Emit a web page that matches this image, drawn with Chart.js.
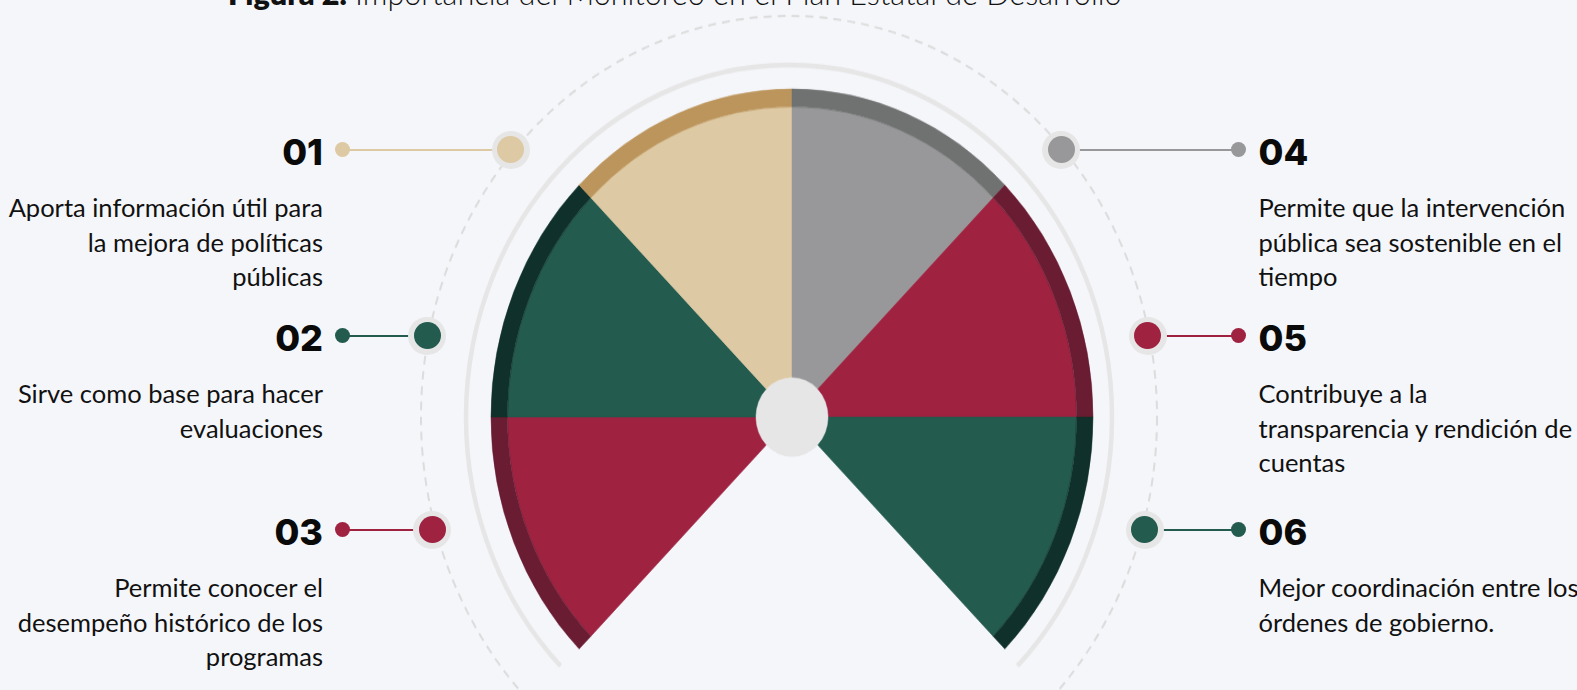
<!DOCTYPE html>
<html lang="es">
<head>
<meta charset="utf-8">
<title>Importancia del Monitoreo en el Plan Estatal de Desarrollo</title>
<script src="https://cdn.jsdelivr.net/npm/chart.js@4.4.1/dist/chart.umd.min.js"></script>
<style>
    html, body { margin: 0; padding: 0; }
    body {
        width: 1577px; height: 690px; overflow: hidden; position: relative;
        background: #f5f6fa; color: #111; font-family: Lato, "Noto Sans", sans-serif;
    }
    #title { position: absolute; left: 228px; white-space: nowrap; font-weight: 300; line-height: 1; }
    #title b { font-weight: 800; }
    #chartBox {
        position: absolute; left: 392px; top: 17px; width: 800px; height: 800px;
        transform: scaleY(1.09); transform-origin: 50% 50%;
    }
    .num { position: absolute; font-family: Inter, sans-serif; font-weight: 800; font-size: 36px; line-height: 36px; color: #0a0a0a; }
    .desc { position: absolute; white-space: nowrap; line-height: 34.5px; color: #111; }
    .left { text-align: right; }
    .mk { position: absolute; border-radius: 50%; z-index: 3; }
    .ln { position: absolute; height: 2px; z-index: 2; }
</style>
</head>
<body>
<div id="title"><b>Figura 2.</b> Importancia del Monitoreo en el Plan Estatal de Desarrollo</div>
<div id="chartBox"><canvas id="wheel"></canvas></div>
<script>
// --- Data ---
// slices go clockwise from the lower left
const sliceLabels = ['03', '02', '01', '04', '05', '06'];
const sliceValues = [1, 1, 1, 1, 1, 1];
const innerColors = ['#9f2241', '#235b4e', '#ddc9a3', '#98989a', '#9f2241', '#235b4e'];
const rimColors = ['#691c32', '#10312b', '#bc955c', '#6f7271', '#691c32', '#10312b'];

const itemNumbers = ['01', '02', '03', '04', '05', '06'];
const itemTexts = [
    ['Aporta información útil para', 'la mejora de políticas', 'públicas'],
    ['Sirve como base para hacer', 'evaluaciones'],
    ['Permite conocer el', 'desempeño histórico de los', 'programas'],
    ['Permite que la intervención', 'pública sea sostenible en el', 'tiempo'],
    ['Contribuye a la', 'transparencia y rendición de', 'cuentas'],
    ['Mejor coordinación entre los', 'órdenes de gobierno.']
];

// --- Layout of the callouts (page pixels) ---
const rowY = [151, 337, 531];                 // centre of the big numbers
const markerX = [510.7, 427.4, 432.2, 1061, 1147.5, 1144.5];
const leftEdge = 323, rightEdge = 1258.5;
const dotLeftX = 342.6, dotRightX = 1238;

// --- Title: fit to its width in the picture ---
const title = document.getElementById('title');
title.style.fontSize = '30px';
let tSize = 30 * 894 / title.offsetWidth;
title.style.fontSize = tSize + 'px';
title.style.top = (6 - 0.887 * tSize) + 'px';

// --- Description font size from the widest line ---
const probe = document.createElement('span');
probe.className = 'desc';
probe.style.fontSize = '23px';
probe.textContent = itemTexts[0][0];
document.body.appendChild(probe);
const descSize = 23 * 315 / probe.offsetWidth;
probe.remove();

function addEl(cls, css, html) {
    const el = document.createElement('div');
    el.className = cls;
    Object.assign(el.style, css);
    if (html) el.innerHTML = html;
    document.body.appendChild(el);
    return el;
}

itemNumbers.forEach(function (num, i) {
    const left = i < 3;
    const y = rowY[i % 3];
    const color = innerColors[sliceLabels.indexOf(num)];
    const mY = y - 1.5;
    const side = left ? { right: (1577 - leftEdge) + 'px' } : { left: rightEdge + 'px' };

    addEl('num' + (left ? ' left' : ''), Object.assign({ top: (y - 17.5) + 'px' }, side), num);
    addEl('desc' + (left ? ' left' : ''),
        Object.assign({ top: (y + 39) + 'px', fontSize: descSize + 'px' }, side),
        itemTexts[i].join('<br>'));

    // connector: small dot, line, big marker with halo
    const dx = left ? dotLeftX : dotRightX;
    const x0 = Math.min(dx, markerX[i]), x1 = Math.max(dx, markerX[i]);
    addEl('ln', { left: x0 + 'px', width: (x1 - x0) + 'px', top: (mY - 1) + 'px', background: color });
    addEl('mk', { left: (dx - 7.5) + 'px', top: (mY - 7.5) + 'px', width: '15px', height: '15px', background: color });
    addEl('mk', { left: (markerX[i] - 19) + 'px', top: (mY - 19) + 'px', width: '38px', height: '38px', background: '#e6e6e6' });
    addEl('mk', { left: (markerX[i] - 13.5) + 'px', top: (mY - 13.5) + 'px', width: '27px', height: '27px', background: color });
});

// --- Decorative rings behind the wheel ---
const ringsPlugin = {
    id: 'rings',
    beforeDatasetsDraw(chart) {
        const arc = chart.getDatasetMeta(0).data[0];
        const R = arc.outerRadius;
        const cx = arc.x - 3, cy = arc.y;
        const ctx = chart.ctx;
        ctx.save();
        ctx.strokeStyle = '#e6e6e6';
        ctx.lineWidth = 4.5;
        ctx.beginPath();
        ctx.arc(cx, cy, R + 22, Math.PI * 0.75, Math.PI * 2.25);
        ctx.stroke();
        ctx.setLineDash([8, 6]);
        ctx.strokeStyle = '#dcdcdc';
        ctx.lineWidth = 2;
        ctx.beginPath();
        ctx.arc(cx, cy, R + 67, 0, Math.PI * 2);
        ctx.stroke();
        ctx.restore();
    }
};

const ctx = document.getElementById('wheel').getContext('2d');
const wheel = new Chart(ctx, {
    type: 'doughnut',
    data: {
        labels: sliceLabels,
        datasets: [
            {   // darker rim
                data: sliceValues,
                backgroundColor: rimColors,
                borderColor: rimColors,
                borderWidth: 0.5,
                weight: 16.5,
                rotation: -135,
                circumference: 270
            },
            {   // slice body
                data: sliceValues,
                backgroundColor: innerColors,
                borderColor: innerColors,
                borderWidth: 0.5,
                weight: 248,
                rotation: -135,
                circumference: 270
            },
            {   // hub
                data: [1],
                backgroundColor: '#e6e6e6',
                borderWidth: 0,
                weight: 36.5,
                rotation: -135,
                circumference: 360
            }
        ]
    },
    options: {
        responsive: true,
        maintainAspectRatio: false,
        animation: false,
        cutout: 0,
        radius: 301,
        layout: { padding: 0 },
        plugins: {
            legend: { display: false },
            tooltip: { enabled: false }
        }
    },
    plugins: [ringsPlugin]
});
</script>
</body>
</html>
